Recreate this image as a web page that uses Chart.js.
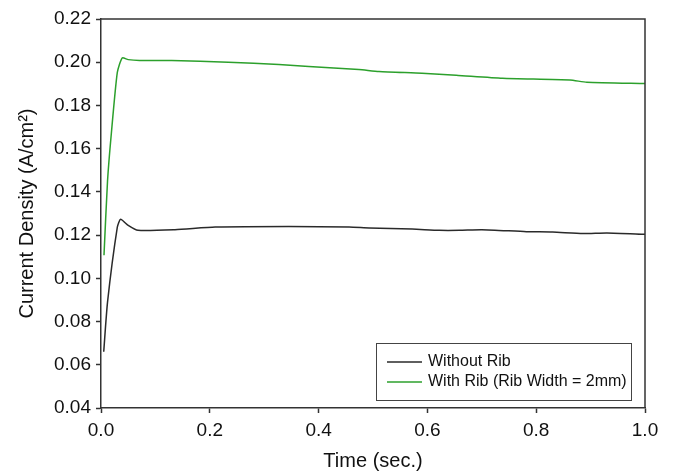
<!DOCTYPE html>
<html lang="en">
<head>
    <meta charset="UTF-8">
    <title>Current Density vs Time</title>
    <script src="https://cdn.jsdelivr.net/npm/chart.js"></script>
    <style>
        body {
            margin: 0;
            padding: 0;
            background: #fff;
            overflow: hidden;
        }
        #chartBox {
            width: 674px;
            height: 473px;
        }
    </style>
</head>
<body>
    <div id="chartBox">
        <canvas id="densityChart" width="674" height="473"></canvas>
    </div>

    <script>
        // Without rib
        const timeNoRib = [0.005, 0.012, 0.030, 0.036, 0.050, 0.068, 0.136, 0.21, 0.345, 0.456,
                           0.493, 0.572, 0.622, 0.659, 0.70, 0.782, 0.83, 0.886, 0.93, 1.0];
        const densityNoRib = [0.066, 0.089, 0.1237, 0.1273, 0.1245, 0.1222, 0.1225, 0.1237, 0.1240, 0.1237,
                              0.1233, 0.1228, 0.1222, 0.1222, 0.1225, 0.1216, 0.1214, 0.1207, 0.1210, 0.1204];

        // With rib (2mm)
        const timeRib = [0.0055, 0.012, 0.019, 0.030, 0.039, 0.050, 0.071, 0.13, 0.234, 0.327,
                         0.382, 0.474, 0.511, 0.59, 0.653, 0.738, 0.862, 0.893, 1.0];
        const densityRib = [0.1107, 0.145, 0.167, 0.1953, 0.202, 0.2012, 0.2008, 0.2008, 0.200, 0.1989,
                            0.198, 0.1966, 0.1957, 0.1949, 0.194, 0.1926, 0.1918, 0.1907, 0.1901];

        const seriesLabels = ['Without Rib', 'With Rib (Rib Width = 2mm)'];
        const xTicks = [0.0, 0.2, 0.4, 0.6, 0.8, 1.0];
        const yTicks = [0.04, 0.06, 0.08, 0.10, 0.12, 0.14, 0.16, 0.18, 0.20, 0.22];

        const FONT = 'Arial, "Liberation Sans", sans-serif';
        const AXIS_COLOR = '#333';

        function toPoints(xs, ys) {
            return xs.map((x, i) => ({ x: x, y: ys[i] }));
        }

        // box around the plot + legend in the lower right corner
        const frameAndLegend = {
            id: 'frameAndLegend',
            afterDraw(chart) {
                const ctx = chart.ctx;
                const a = chart.chartArea;
                ctx.save();
                ctx.strokeStyle = AXIS_COLOR;
                ctx.lineWidth = 1.5;
                ctx.beginPath();
                ctx.moveTo(a.left, a.top);
                ctx.lineTo(a.right, a.top);
                ctx.lineTo(a.right, a.bottom);
                ctx.stroke();

                // legend box
                const bx = 376, by = 343, bw = 255, bh = 57;
                ctx.lineWidth = 1;
                ctx.strokeStyle = '#444';
                ctx.fillStyle = '#fff';
                ctx.fillRect(bx, by, bw, bh);
                ctx.strokeRect(bx + 0.5, by + 0.5, bw, bh);

                ctx.font = '16px ' + FONT;
                ctx.textBaseline = 'middle';
                chart.data.datasets.forEach((ds, i) => {
                    const y = by + 19 + i * 20;
                    ctx.strokeStyle = ds.borderColor;
                    ctx.lineWidth = 1.5;
                    ctx.beginPath();
                    ctx.moveTo(bx + 11, y);
                    ctx.lineTo(bx + 46, y);
                    ctx.stroke();
                    ctx.fillStyle = '#111';
                    ctx.fillText(ds.label, bx + 52, y);
                });
                ctx.restore();
            }
        };

        new Chart(document.getElementById('densityChart'), {
            type: 'line',
            data: {
                datasets: [{
                    label: seriesLabels[0],
                    data: toPoints(timeNoRib, densityNoRib),
                    borderColor: '#2a2a2a',
                    borderWidth: 1.5,
                    pointRadius: 0,
                    tension: 0.2
                }, {
                    label: seriesLabels[1],
                    data: toPoints(timeRib, densityRib),
                    borderColor: '#2ca02c',
                    borderWidth: 1.5,
                    pointRadius: 0,
                    tension: 0.2
                }]
            },
            options: {
                responsive: false,
                animation: false,
                layout: {
                    padding: { left: 0, right: 29, top: 19, bottom: 0 }
                },
                plugins: {
                    legend: { display: false },
                    tooltip: { enabled: false }
                },
                scales: {
                    x: {
                        type: 'linear',
                        min: 0,
                        max: 1,
                        afterBuildTicks: scale => {
                            scale.ticks = xTicks.map(v => ({ value: v }));
                        },
                        afterFit: scale => { scale.height = 65; },
                        border: { color: AXIS_COLOR, width: 1.5 },
                        grid: {
                            drawOnChartArea: false,
                            drawTicks: true,
                            tickLength: 5,
                            color: AXIS_COLOR,
                            tickWidth: 1.5
                        },
                        ticks: {
                            color: '#111',
                            font: { family: FONT, size: 19 },
                            padding: 6,
                            maxRotation: 0,
                            callback: v => Number(v).toFixed(1)
                        },
                        title: {
                            display: true,
                            text: 'Time (sec.)',
                            color: '#111',
                            font: { family: FONT, size: 20 },
                            padding: 0
                        }
                    },
                    y: {
                        type: 'linear',
                        min: 0.04,
                        max: 0.22,
                        afterBuildTicks: scale => {
                            scale.ticks = yTicks.map(v => ({ value: v }));
                        },
                        afterFit: scale => { scale.width = 101; },
                        border: { color: AXIS_COLOR, width: 1.5 },
                        grid: {
                            drawOnChartArea: false,
                            drawTicks: true,
                            tickLength: 5,
                            color: AXIS_COLOR,
                            tickWidth: 1.5
                        },
                        ticks: {
                            color: '#111',
                            font: { family: FONT, size: 19 },
                            padding: 5,
                            callback: v => Number(v).toFixed(2)
                        },
                        title: {
                            display: true,
                            text: 'Current Density (A/cm²)',
                            color: '#111',
                            font: { family: FONT, size: 20 },
                            padding: { top: 15, bottom: 0 }
                        }
                    }
                }
            },
            plugins: [frameAndLegend]
        });
    </script>
</body>
</html>
